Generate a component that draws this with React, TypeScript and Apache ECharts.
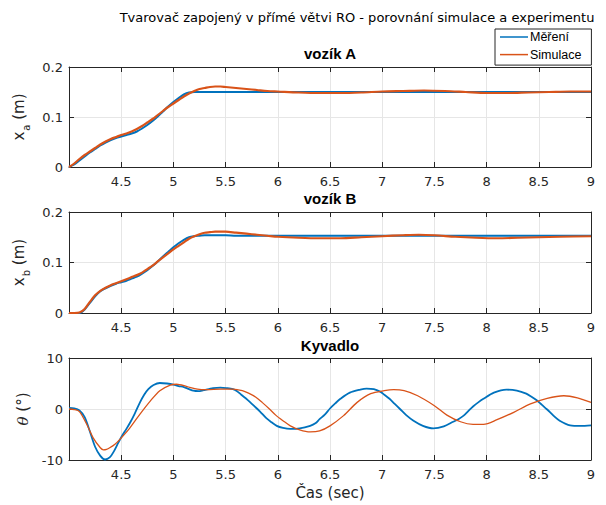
import React, { useEffect, useRef } from "react";
import * as echarts from "echarts";

// ---- data ----
const tA = [4.0, 4.05, 4.1, 4.15, 4.2, 4.25, 4.3, 4.35, 4.4, 4.45, 4.5, 4.55, 4.6, 4.65, 4.7, 4.75, 4.8, 4.85, 4.9, 4.95, 5.0, 5.05, 5.1, 5.15, 5.2, 5.25, 5.3, 5.35, 5.4, 5.45, 5.5, 5.6, 5.7, 5.8, 5.9, 6.0, 6.2, 6.4, 6.6, 6.8, 7.0, 7.2, 7.4, 7.6, 7.8, 8.0, 8.2, 8.4, 8.6, 8.8, 9.0];
const measA = [0, 0.005, 0.013, 0.021, 0.029, 0.036, 0.043, 0.049, 0.054, 0.058, 0.061, 0.064, 0.067, 0.071, 0.077, 0.084, 0.092, 0.101, 0.111, 0.121, 0.13, 0.138, 0.145, 0.149, 0.15, 0.15, 0.15, 0.15, 0.15, 0.15, 0.15, 0.15, 0.15, 0.15, 0.15, 0.15, 0.15, 0.15, 0.15, 0.15, 0.15, 0.15, 0.15, 0.15, 0.15, 0.15, 0.15, 0.15, 0.15, 0.15, 0.15];
const simA = [0, 0.007, 0.016, 0.024, 0.031, 0.038, 0.045, 0.051, 0.056, 0.06, 0.064, 0.067, 0.071, 0.076, 0.082, 0.089, 0.096, 0.104, 0.112, 0.12, 0.127, 0.134, 0.141, 0.147, 0.152, 0.156, 0.158, 0.16, 0.161, 0.161, 0.16, 0.158, 0.156, 0.154, 0.152, 0.151, 0.149, 0.148, 0.148, 0.149, 0.151, 0.152, 0.153, 0.152, 0.15, 0.148, 0.148, 0.149, 0.15, 0.151, 0.151];

const tB = [4.0, 4.05, 4.1, 4.15, 4.2, 4.25, 4.3, 4.35, 4.4, 4.45, 4.5, 4.55, 4.6, 4.65, 4.7, 4.75, 4.8, 4.85, 4.9, 4.95, 5.0, 5.05, 5.1, 5.15, 5.2, 5.25, 5.3, 5.35, 5.4, 5.45, 5.5, 5.6, 5.7, 5.8, 5.9, 6.0, 6.2, 6.4, 6.6, 6.8, 7.0, 7.2, 7.35, 7.5, 7.7, 7.9, 8.1, 8.3, 8.5, 8.7, 9.0];
const measB = [0, 0, 0, 0.007, 0.02, 0.033, 0.043, 0.049, 0.054, 0.058, 0.061, 0.064, 0.068, 0.072, 0.078, 0.085, 0.093, 0.102, 0.112, 0.121, 0.13, 0.138, 0.145, 0.15, 0.152, 0.153, 0.154, 0.154, 0.154, 0.154, 0.154, 0.153, 0.153, 0.153, 0.153, 0.153, 0.153, 0.153, 0.153, 0.153, 0.153, 0.153, 0.153, 0.153, 0.153, 0.153, 0.153, 0.153, 0.153, 0.153, 0.153];
const simB = [0, 0, 0.001, 0.008, 0.022, 0.035, 0.044, 0.05, 0.055, 0.059, 0.063, 0.067, 0.071, 0.075, 0.08, 0.087, 0.094, 0.102, 0.11, 0.118, 0.126, 0.133, 0.14, 0.147, 0.152, 0.156, 0.159, 0.16, 0.161, 0.161, 0.161, 0.159, 0.157, 0.155, 0.153, 0.151, 0.149, 0.148, 0.148, 0.15, 0.152, 0.154, 0.155, 0.154, 0.151, 0.149, 0.148, 0.149, 0.15, 0.151, 0.152];

const tMeasK = [4.0, 4.05, 4.1, 4.15, 4.2, 4.25, 4.3, 4.345, 4.39, 4.43, 4.47, 4.51, 4.55, 4.59, 4.63, 4.68, 4.72, 4.76, 4.81, 4.87, 4.94, 5.0, 5.05, 5.1, 5.15, 5.19, 5.24, 5.29, 5.34, 5.38, 5.45, 5.51, 5.57, 5.61, 5.65, 5.71, 5.77, 5.83, 5.89, 5.94, 5.99, 6.05, 6.12, 6.21, 6.31, 6.36, 6.4, 6.45, 6.5, 6.55, 6.6, 6.69, 6.79, 6.85, 6.92, 6.98, 7.02, 7.07, 7.12, 7.17, 7.23, 7.3, 7.39, 7.49, 7.59, 7.68, 7.73, 7.78, 7.82, 7.87, 7.92, 7.97, 8.07, 8.19, 8.29, 8.38, 8.43, 8.48, 8.53, 8.58, 8.64, 8.7, 8.8, 8.9, 9.0];
const measK = [0.2, 0.1, -0.3, -1.6, -4.4, -7.4, -9.2, -9.9, -9.5, -8.3, -6.7, -5.2, -3.9, -2.5, -0.9, 1.3, 2.8, 3.9, 4.7, 5.1, 5.0, 4.8, 4.5, 4.3, 3.9, 3.6, 3.5, 3.7, 3.9, 4.1, 4.2, 4.1, 3.9, 3.5, 2.8, 1.8, 0.65, -0.5, -1.8, -2.6, -3.3, -3.7, -3.9, -3.8, -3.3, -2.8, -2.0, -1.1, 0.1, 1.1, 2.0, 3.2, 3.8, 4.0, 3.9, 3.4, 2.8, 2.0, 1.0, 0, -1.2, -2.3, -3.3, -3.8, -3.4, -2.5, -2.0, -1.3, -0.5, 0.5, 1.3, 2.0, 3.2, 3.8, 3.6, 3.0, 2.4, 1.7, 0.8, -0.1, -1.3, -2.3, -3.2, -3.3, -3.2];
const tSimK = [4.0, 4.05, 4.1, 4.17, 4.23, 4.3, 4.33, 4.36, 4.39, 4.44, 4.49, 4.58, 4.68, 4.78, 4.87, 4.97, 5.03, 5.13, 5.23, 5.32, 5.45, 5.57, 5.66, 5.72, 5.79, 5.85, 5.92, 5.98, 6.05, 6.12, 6.21, 6.31, 6.4, 6.5, 6.63, 6.76, 6.89, 7.02, 7.11, 7.21, 7.34, 7.5, 7.62, 7.75, 7.87, 7.97, 8.1, 8.26, 8.42, 8.58, 8.74, 8.87, 9.0];
const simK = [0, -0.1, -0.5, -3.0, -5.6, -7.6, -8.0, -7.9, -7.6, -6.9, -5.9, -3.8, -1.0, 1.6, 3.6, 4.7, 4.85, 4.4, 3.9, 3.8, 3.9, 3.9, 3.6, 3.1, 2.3, 1.3, 0, -1.2, -2.3, -3.3, -4.1, -4.5, -4.3, -3.3, -1.3, 1.3, 3.0, 3.6, 3.8, 3.6, 2.6, 0.65, -1.2, -2.5, -3.0, -3.0, -2.1, -0.65, 1.0, 2.1, 2.6, 2.2, 1.3];

const xTicksMin = 4;
const xTicksMax = 9;
const legendNames = ["Měření", "Simulace"];
const mainTitle = "Tvarovač zapojený v přímé větvi RO - porovnání simulace a experimentu";
const panelTitles = ["vozík A", "vozík B", "Kyvadlo"];

const BLUE = "#0072BD";
const ORANGE = "#D95319";
const AX = "#262626";

const zip = (t: number[], v: number[]) => t.map((x, i) => [x, v[i]]);

export default function App() {
  const ref = useRef<HTMLDivElement>(null);
  useEffect(() => {
    document.body.style.margin = "0";
    const chart = echarts.init(ref.current!, null, { renderer: "svg" });
    const grids = [
      { left: 69, top: 67, width: 522, height: 100 },
      { left: 69, top: 212, width: 522, height: 101 },
      { left: 69, top: 358, width: 522, height: 102 },
    ];
    const xAxes: any[] = [];
    const yAxes: any[] = [];
    const yRanges = [
      { min: 0, max: 0.2, interval: 0.1 },
      { min: 0, max: 0.2, interval: 0.1 },
      { min: -10, max: 10, interval: 10 },
    ];
    const yNames = [
      "{v|x}{s|a}{v| (m)}",
      "{v|x}{s|b}{v| (m)}",
      "{i|θ}{v| (°)}",
    ];
    const tickFont = { fontFamily: "DejaVu Sans", fontSize: 13, color: AX };
    grids.forEach((g, i) => {
      xAxes.push({
        type: "value",
        gridIndex: i,
        position: "bottom",
        min: xTicksMin,
        max: xTicksMax,
        interval: 0.5,
        axisLine: { show: true, onZero: false, lineStyle: { color: AX, width: 1 } },
        axisTick: { show: true, inside: true, length: 5, lineStyle: { color: AX } },
        axisLabel: {
          ...tickFont,
          margin: 8,
          formatter: (v: number) => (Math.abs(v - 4) < 1e-9 ? "" : String(v)),
        },
        splitLine: { show: true, lineStyle: { color: "#e6e6e6", width: 1 } },
        name: i === 2 ? "Čas (sec)" : "",
        nameLocation: "middle",
        nameGap: 25,
        nameTextStyle: { fontFamily: "DejaVu Sans", fontSize: 15, color: AX },
      });
      xAxes.push({
        type: "value",
        gridIndex: i,
        position: "top",
        min: xTicksMin,
        max: xTicksMax,
        interval: 0.5,
        axisLine: { show: true, onZero: false, lineStyle: { color: AX, width: 1 } },
        axisTick: { show: true, inside: true, length: 5, lineStyle: { color: AX } },
        axisLabel: { show: false },
        splitLine: { show: false },
      });
      yAxes.push({
        type: "value",
        gridIndex: i,
        position: "left",
        ...yRanges[i],
        axisLine: { show: true, onZero: false, lineStyle: { color: AX, width: 1 } },
        axisTick: { show: true, inside: true, length: 5, lineStyle: { color: AX } },
        axisLabel: { ...tickFont, margin: 6 },
        splitLine: { show: true, lineStyle: { color: "#e6e6e6", width: 1 } },
        name: yNames[i],
        nameLocation: "middle",
        nameRotate: 90,
        nameGap: i === 2 ? 33 : 36,
        nameTextStyle: {
          rich: {
            v: { fontFamily: "DejaVu Sans", fontSize: 15, color: AX },
            s: { fontFamily: "DejaVu Sans", fontSize: 10, color: AX, padding: [14, 0, 0, 1] },
            i: { fontFamily: "DejaVu Serif", fontStyle: "italic", fontSize: 15, color: AX },
          },
        },
      });
      yAxes.push({
        type: "value",
        gridIndex: i,
        position: "right",
        ...yRanges[i],
        axisLine: { show: true, onZero: false, lineStyle: { color: AX, width: 1 } },
        axisTick: { show: true, inside: true, length: 5, lineStyle: { color: AX } },
        axisLabel: { show: false },
        splitLine: { show: false },
      });
    });
    const mk = (name: string, color: string, data: number[][], idx: number, width: number) => ({
      type: "line",
      name,
      xAxisIndex: idx * 2,
      yAxisIndex: idx * 2,
      data,
      symbol: "none",
      smooth: 0.3,
      lineStyle: { color, width },
      itemStyle: { color },
    });
    const series = [
      mk(legendNames[0], BLUE, zip(tA, measA), 0, 2),
      mk(legendNames[1], ORANGE, zip(tA, simA), 0, 2.2),
      mk(legendNames[0], BLUE, zip(tB, measB), 1, 2),
      mk(legendNames[1], ORANGE, zip(tB, simB), 1, 2.2),
      mk(legendNames[0], BLUE, zip(tMeasK, measK), 2, 1.8),
      mk(legendNames[1], ORANGE, zip(tSimK, simK), 2, 1.3),
    ];
    const titleY = [53, 198, 345];
    chart.setOption({
      animation: false,
      backgroundColor: "#fff",
      grid: grids,
      xAxis: xAxes,
      yAxis: yAxes,
      series,
      legend: {
        data: legendNames,
        left: 495,
        top: 29,
        orient: "vertical",
        icon: "rect",
        itemWidth: 28,
        itemHeight: 1.5,
        itemGap: 4.6,
        padding: [1.5, 10, 4, 5],
        borderColor: AX,
        borderWidth: 1,
        backgroundColor: "#fff",
        textStyle: { fontFamily: "Liberation Sans", fontSize: 12.5, lineHeight: 12, color: "#000", padding: [0, 0, 0, -3] },
      },
      graphic: [
        {
          type: "text",
          x: 357,
          y: 17,
          style: {
            text: mainTitle,
            textAlign: "center",
            textVerticalAlign: "middle",
            font: "13px 'DejaVu Sans'",
            fill: "#000",
          },
        },
        ...panelTitles.map((t, i) => ({
          type: "text",
          x: 330,
          y: titleY[i],
          style: {
            text: t,
            textAlign: "center",
            textVerticalAlign: "middle",
            font: "bold 15px 'Liberation Sans'",
            fill: "#000",
          },
        })),
      ],
    });
    return () => chart.dispose();
  }, []);
  return <div ref={ref} style={{ width: 606, height: 505 }} />;
}
